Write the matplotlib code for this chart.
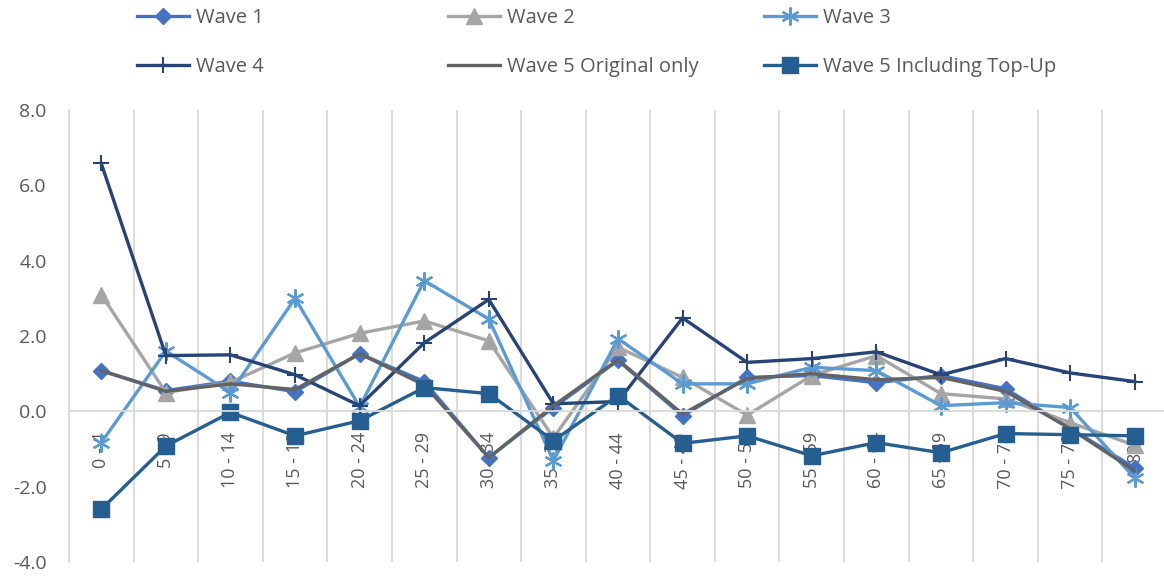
import matplotlib
matplotlib.use("Agg")
import matplotlib.pyplot as plt
import numpy as np

plt.rcParams['font.family'] = ['Open Sans', 'DejaVu Sans']

# Datos
grupos = ["0 - 4", "5 - 9", "10 - 14", "15 - 19", "20 - 24", "25 - 29", "30 - 34",
          "35 - 39", "40 - 44", "45 - 49", "50 - 54", "55 - 59", "60 - 64",
          "65 - 69", "70 - 74", "75 - 79", "80+"]
wave1 = [1.08, 0.55, 0.8, 0.52, 1.53, 0.79, -1.23, 0.1, 1.35, -0.12, 0.9,
         0.95, 0.76, 0.95, 0.6, -0.45, -1.5]
wave2 = [3.1, 0.5, 0.77, 1.55, 2.07, 2.4, 1.87, -0.7, 1.7, 0.9, -0.1,
         0.95, 1.48, 0.47, 0.33, -0.3, -0.9]
wave3 = [-0.83, 1.6, 0.5, 3.0, 0.12, 3.47, 2.45, -1.31, 1.93, 0.73, 0.73,
         1.17, 1.08, 0.15, 0.23, 0.1, -1.77]
wave4 = [6.58, 1.48, 1.5, 0.97, 0.15, 1.82, 2.97, 0.2, 0.26, 2.48, 1.3,
         1.4, 1.58, 0.97, 1.4, 1.02, 0.79]
wave5_orig = [1.08, 0.53, 0.73, 0.58, 1.53, 0.7, -1.23, 0.15, 1.37, -0.07, 0.87,
              1.0, 0.84, 0.9, 0.53, -0.46, -1.58]
wave5_topup = [-2.6, -0.92, -0.03, -0.65, -0.25, 0.63, 0.47, -0.78, 0.42, -0.85, -0.65,
               -1.18, -0.83, -1.1, -0.59, -0.62, -0.65]

gris_txt = "#595959"
gris_grid = "#D9D9D9"

fig = plt.figure(figsize=(11.64, 5.77), dpi=100)
ax = fig.add_axes([69 / 1164, 1 - 562 / 577, 1098 / 1164, 452 / 577])

x = np.arange(len(grupos))
lw = 2.4
l1, = ax.plot(x, wave1, color="#4472C4", lw=lw, marker="D", ms=8, label="Wave 1")
l2, = ax.plot(x, wave2, color="#A5A5A5", lw=lw, marker="^", ms=11, label="Wave 2")
l3, = ax.plot(x, wave3, color="#5B9BD5", lw=lw, marker=(6, 2, 0), ms=13, mew=1.6,
              label="Wave 3")
l4, = ax.plot(x, wave4, color="#264478", lw=lw, marker="+", ms=12, mew=1.5, label="Wave 4")
l5, = ax.plot(x, wave5_orig, color="#636363", lw=lw, label="Wave 5 Original only")
l6, = ax.plot(x, wave5_topup, color="#255E91", lw=lw, marker="s", ms=11.5,
              label="Wave 5 Including Top-Up")

ax.spines["bottom"].set_position(("data", 0))
ax.spines["bottom"].set_color(gris_grid)
ax.spines["bottom"].set_linewidth(1.3)
ax.spines["left"].set_color(gris_grid)
ax.spines["left"].set_linewidth(1.3)
ax.spines["top"].set_visible(False)
ax.spines["right"].set_visible(False)

ax.set_xlim(-0.5, len(grupos) - 0.5)
ax.set_ylim(-4, 8)
ax.set_yticks(np.arange(-4, 8.1, 2))
ax.set_yticklabels([f"{v:.1f}" for v in np.arange(-4, 8.1, 2)])
ax.set_xticks(x)
ax.set_xticklabels(grupos)
ax.set_xticks(np.arange(-0.5, len(grupos), 1), minor=True)
ax.grid(which="minor", axis="x", color=gris_grid, lw=1.3)
ax.set_axisbelow(True)

ax.tick_params(axis="both", which="both", length=0, colors=gris_txt, labelsize=13)
ax.tick_params(axis="y", pad=16, labelsize=14)
ax.tick_params(axis="x", pad=15, labelrotation=90)

# Leyenda en tres columnas fijas
cols = [([l1, l4], 137), ([l2, l5], 448), ([l3, l6], 764)]
for handles, xpos in cols:
    leg = fig.legend(handles=handles, loc="upper left",
                     bbox_to_anchor=(xpos / 1164, 1 - 8 / 577),
                     frameon=False, fontsize=14.5, handlelength=2.6,
                     handletextpad=0.35, labelspacing=1.45, borderpad=0,
                     borderaxespad=0)
    for t in leg.get_texts():
        t.set_color(gris_txt)

fig.savefig("out.png", dpi=100)
